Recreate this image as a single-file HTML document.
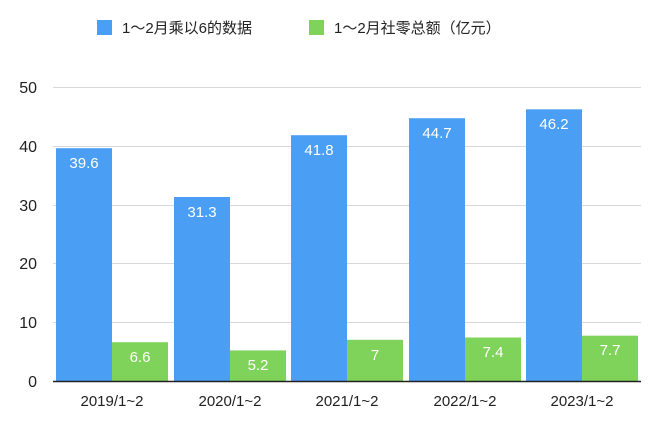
<!DOCTYPE html>
<html><head><meta charset="utf-8"><style>
html,body{margin:0;padding:0;background:#fff;}
svg{display:block;font-family:"Liberation Sans","Noto Sans CJK SC",sans-serif;}
</style></head><body>
<svg width="660" height="426" viewBox="0 0 660 426" xmlns="http://www.w3.org/2000/svg">
<rect x="97" y="20" width="15" height="15" fill="#4a9ff5"/>
<text x="122" y="33" font-size="15" fill="#222">1～2月乘以6的数据</text>
<rect x="309" y="20" width="15" height="15" fill="#80d35a"/>
<text x="334" y="33" font-size="15" fill="#222">1～2月社零总额（亿元）</text>
<g stroke="#d8d8d8" stroke-width="1">
<line x1="53" y1="87.5" x2="641" y2="87.5"/>
<line x1="53" y1="146.5" x2="641" y2="146.5"/>
<line x1="53" y1="205.5" x2="641" y2="205.5"/>
<line x1="53" y1="263.5" x2="641" y2="263.5"/>
<line x1="53" y1="322.5" x2="641" y2="322.5"/>
</g>
<g font-size="16" fill="#222" text-anchor="end">
<text x="37" y="93">50</text><text x="37" y="152">40</text><text x="37" y="211">30</text>
<text x="37" y="269">20</text><text x="37" y="328">10</text><text x="37" y="387">0</text>
</g>
<g fill="#4a9ff5">
<rect x="56" y="148.2" width="56" height="232.8"/>
<rect x="174" y="197" width="56" height="184"/>
<rect x="291" y="135.2" width="56" height="245.8"/>
<rect x="409" y="118.2" width="56" height="262.8"/>
<rect x="526" y="109.3" width="56" height="271.7"/>
</g>
<g fill="#80d35a">
<rect x="112" y="342.2" width="56" height="38.8"/>
<rect x="230" y="350.4" width="56" height="30.6"/>
<rect x="347" y="339.8" width="56" height="41.2"/>
<rect x="465" y="337.5" width="56" height="43.5"/>
<rect x="582" y="335.7" width="56" height="45.3"/>
</g>
<line x1="53" y1="381.5" x2="641" y2="381.5" stroke="#222" stroke-width="1.5"/>
<g font-size="15" fill="#fff" text-anchor="middle">
<text x="84" y="168">39.6</text><text x="202" y="217">31.3</text><text x="319" y="155">41.8</text>
<text x="437" y="138">44.7</text><text x="554" y="129">46.2</text>
<text x="140" y="362">6.6</text><text x="258" y="370">5.2</text><text x="375" y="360">7</text>
<text x="493" y="357">7.4</text><text x="610" y="355">7.7</text>
</g>
<g font-size="15" fill="#222" text-anchor="middle">
<text x="112" y="406">2019/1~2</text><text x="230" y="406">2020/1~2</text><text x="347" y="406">2021/1~2</text>
<text x="465" y="406">2022/1~2</text><text x="582" y="406">2023/1~2</text>
</g>
</svg>
</body></html>
